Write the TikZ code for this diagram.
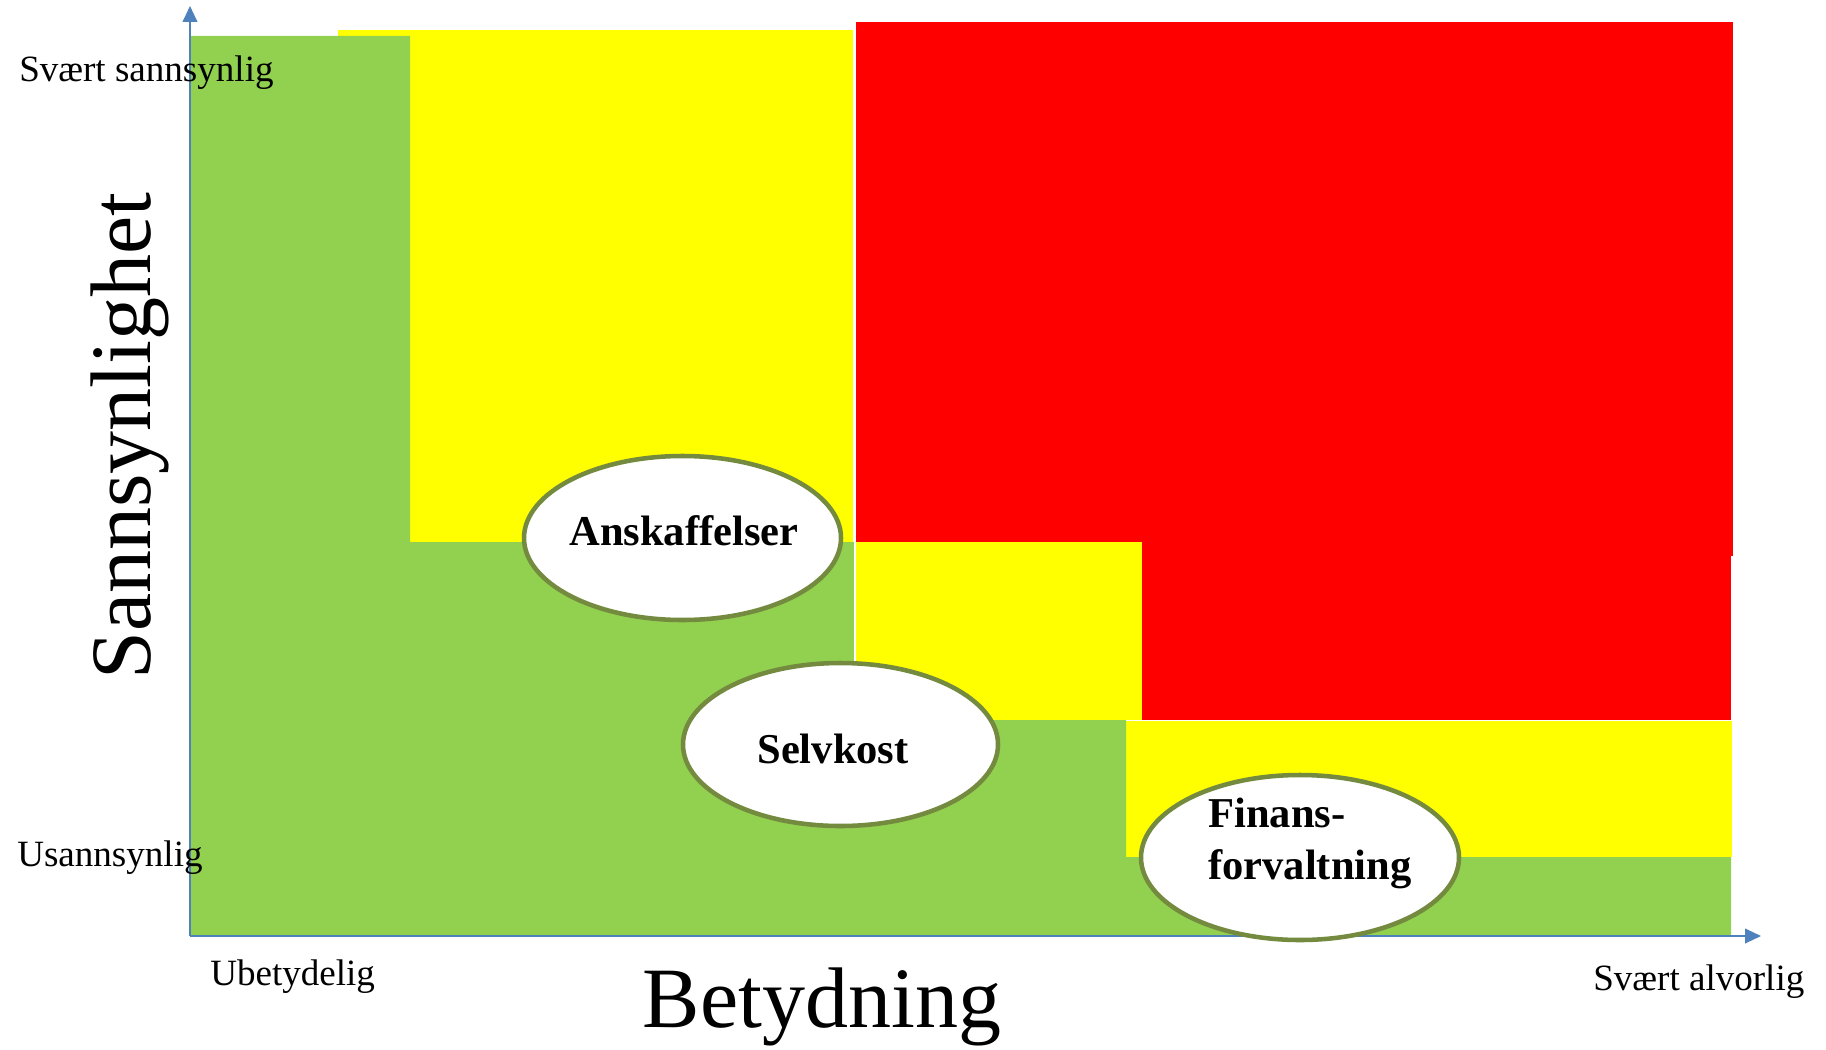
\documentclass[tikz,border=0pt]{standalone}
\usepackage{fontspec}
\setmainfont{Liberation Serif}
\usetikzlibrary{arrows.meta,shapes.geometric}
\definecolor{rgreen}{HTML}{92D050}
\definecolor{ryellow}{HTML}{FFFF00}
\definecolor{rred}{HTML}{FF0000}
\definecolor{axisblue}{HTML}{4F81BD}
\definecolor{olive}{HTML}{738A3F}
\tikzset{
  axisline/.style={draw=axisblue, line width=1.5pt, -{Triangle[length=12pt,width=11pt]}},
  riskell/.style={ellipse, draw=olive, line width=3.4pt, fill=white, inner sep=0pt},
  risklab/.style={font=\fontsize{31.9}{39}\selectfont\bfseries, inner sep=0pt},
  scalelab/.style={font=\fontsize{27.8}{33}\selectfont, inner sep=0pt, anchor=base west},
  biglab/.style={font=\fontsize{64.5}{70}\selectfont, inner sep=0pt}
}
\begin{document}
\begin{tikzpicture}[x=0.75pt,y=-0.75pt]
\useasboundingbox (0,0) rectangle (1826,1049);
% zones
\fill[ryellow] (338,30) rectangle (853,542);
\fill[rred] (855,22) rectangle (1733,556);
\fill[rred] (1141,556) rectangle (1731,720);
\fill[ryellow] (855,542) rectangle (1142,720);
\fill[ryellow] (1126,720) rectangle (1732,857);
\fill[ryellow] (1121,850) rectangle (1130,857);
\fill[rgreen] (190,36) -- (410,36) -- (410,542) -- (854,542) -- (854,720) -- (1126,720)
  -- (1126,857) -- (1731,857) -- (1731,936) -- (190,936) -- cycle;
\draw[white, line width=1.5pt] (854.5,22) -- (854.5,720);
\draw[white, line width=1pt] (1126,720.5) -- (1732,720.5);
% axes
\coordinate (o) at (190,936);
\coordinate (ytip) at (190,6);
\coordinate (xtip) at (1761,936);
\draw[axisline] (o) -- (ytip);
\draw[axisline] (o) -- (xtip);
% scale labels
\node[scalelab] (l1) at (19,82) {Svært sannsynlig};
\node[scalelab] (l2) at (17,866) {Usannsynlig};
\node[scalelab] (l3) at (210,985) {Ubetydelig};
\node[scalelab] (l4) at (1593,990) {Svært alvorlig};
% axis titles
\node[biglab, anchor=base] (bt) at (822,1027) {Betydning};
\node[biglab, anchor=base, rotate=90] (st) at (150,436) {Sannsynlighet};
% risk ellipses
\node[riskell, minimum width=237.75pt, minimum height=123pt] (ea) at (682.5,538) {};
\node[risklab, anchor=base] (ta) at (684,545) {Anskaffelser};
\node[riskell, minimum width=236.25pt, minimum height=122.25pt] (es) at (840.5,744.5) {};
\node[risklab, anchor=base] (ts) at (833,763) {Selvkost};
\node[riskell, minimum width=238.5pt, minimum height=123.75pt] (ef) at (1300,857.5) {};
\node[risklab, anchor=base west, align=left] (tf) at (1208,879) {Finans-\\forvaltning};
\end{tikzpicture}
\end{document}
